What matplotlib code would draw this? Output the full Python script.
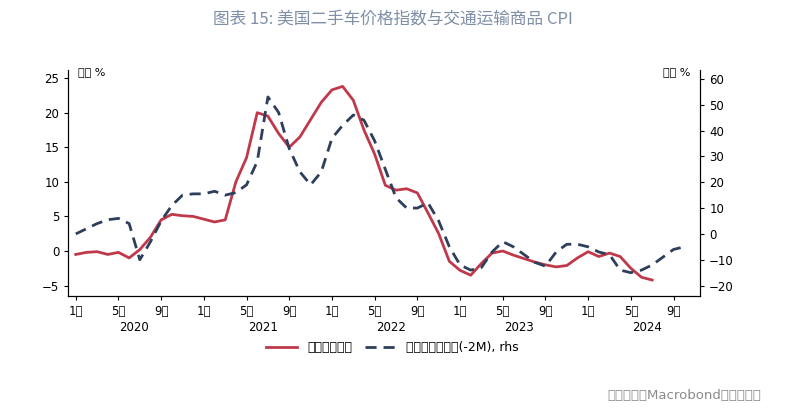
import matplotlib
matplotlib.use("Agg")
import matplotlib.pyplot as plt
import numpy as np

plt.rcParams["font.family"] = ["Noto Sans CJK SC", "DejaVu Sans"]

red_vals = [-0.5,-0.2,-0.1,-0.5,-0.2,-1.0,0.2,2.0,4.5,5.3,5.1,5.0,
            4.6,4.2,4.5,10,13.5,20.0,19.5,17,15,16.5,19,21.5,
            23.3,23.8,21.8,17.5,14,9.5,8.8,9.0,8.4,5.5,2.5,-1.5,
            -2.8,-3.5,-1.8,-0.3,0.0,-0.6,-1.1,-1.6,-2.0,-2.3,-2.1,-1.0,
            -0.1,-0.8,-0.3,-0.8,-2.5,-3.8,-4.2]
blue_vals = [0,2,4,5.5,6,4,-10,-3,5,11,15,15.5,
             15.5,16.5,15,16,19,28,53,47,33,24,19,24,
             37,42,46,44,36,25,14,10,10,12,5,-5,
             -12,-14,-13,-7,-3,-5,-8,-11,-12.5,-7,-4,-4,
             -5,-7,-8,-14,-15,-14,-12,-9,-6,-5]
red_label = "交通运输商品"
blue_label = "二手车价格指数(-2M), rhs"
tick_months = ["1月","5月","9月"]
years = ["2020","2021","2022","2023","2024"]
title = "图表 15: 美国二手车价格指数与交通运输商品 CPI"

fig = plt.figure(figsize=(7.85,4.18), dpi=100)
fig.text(0.5,0.955,title,ha="center",va="center",
         fontsize=12,color="#7f8fa6",fontfamily="Noto Sans CJK JP",fontweight="normal")
ax = fig.add_axes([0.087,0.292,0.805,0.541])
ax2 = ax.twinx()
xr = np.arange(len(red_vals)); xb = np.arange(len(blue_vals))
l1, = ax.plot(xr, red_vals, color="#c0394b", lw=2)
l2, = ax2.plot(xb, blue_vals, color="#2e3f5c", lw=2, ls=(0,(4,2.5)))
ax.set_ylim(-6.5,26.2); ax2.set_ylim(-24,63.5)
ax.set_yticks(range(-5,26,5)); ax2.set_yticks(range(-20,61,10))
ax.set_xlim(-0.7,58.5)
ticks=[]; labels=[]
for yi in range(5):
    for mi,m in enumerate([0,4,8]):
        t=yi*12+m
        if t<=57:
            ticks.append(t); labels.append(tick_months[mi])
ax.set_xticks(ticks); ax.set_xticklabels(labels)
for yi,y in enumerate(years):
    ax.text(yi*12+5.5,-0.11,y,transform=ax.get_xaxis_transform(),ha="center",va="top",fontsize=8.5)
for a in (ax,ax2):
    a.tick_params(labelsize=8.5,direction="out",length=3)
    a.spines["top"].set_visible(False)
ax.text(0.015,0.97,"同比 %",transform=ax.transAxes,fontsize=8,va="bottom")
ax2.text(0.985,0.97,"同比 %",transform=ax.transAxes,fontsize=8,va="bottom",ha="right")
fig.legend([l1,l2],[red_label,blue_label],loc="center",bbox_to_anchor=(0.5,0.168),ncol=2,
           frameon=False,fontsize=9,handlelength=2.5,columnspacing=1.0)
fig.text(0.97,0.045,"资料来源：Macrobond，兴业研究",ha="right",fontsize=9.5,color="#8a8a8a")
fig.savefig("out.png",dpi=100)
